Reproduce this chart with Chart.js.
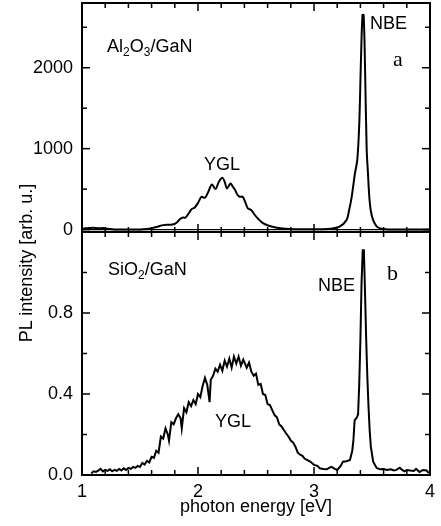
<!DOCTYPE html>
<html><head><meta charset="utf-8">
<script src="https://cdn.jsdelivr.net/npm/chart.js@4/dist/chart.umd.min.js"></script>
<style>
html,body{margin:0;padding:0;background:#fff;}
#wrap{position:relative;width:441px;height:526px;overflow:hidden;font-family:"Liberation Sans",Arial,sans-serif;color:#000;background:#fff;}
canvas{position:absolute;left:0;top:0;}
.t{position:absolute;font-size:18px;line-height:18px;white-space:nowrap;}
.t sub{font-size:12px;vertical-align:-4px;line-height:0;}
.s{font-family:"Liberation Serif","Times New Roman",serif;font-size:22px;line-height:22px;}
#ylab{left:-74.5px;top:253.5px;width:200px;text-align:center;transform:rotate(-90deg);}
</style></head>
<body><div id="wrap">
<canvas id="topc" width="441" height="526"></canvas>
<canvas id="botc" width="441" height="526"></canvas>
<div class="t" style="left:107px;top:37px">Al<sub>2</sub>O<sub>3</sub>/GaN</div>
<div class="t" style="left:204px;top:155px">YGL</div>
<div class="t" style="left:370px;top:14px">NBE</div>
<div class="t s" style="left:393px;top:48px">a</div>
<div class="t" style="left:108px;top:260px">SiO<sub>2</sub>/GaN</div>
<div class="t" style="left:318px;top:276px">NBE</div>
<div class="t s" style="left:387px;top:262px">b</div>
<div class="t" style="left:215px;top:412px">YGL</div>
<div class="t" id="ylab">PL intensity [arb. u.]</div>
</div>
<script>
// ---- data ----
const topEnergy = [1.00,1.03,1.06,1.09,1.12,1.15,1.18,1.22,1.26,1.30,1.40,1.50,1.56,1.60,1.65,1.70,1.75,1.79,1.82,1.845,1.87,1.89,1.92,1.945,1.97,2.00,2.03,2.06,2.09,2.12,2.15,2.18,2.21,2.23,2.25,2.28,2.30,2.32,2.34,2.36,2.385,2.41,2.43,2.46,2.49,2.52,2.56,2.61,2.68,2.75,2.85,3.00,3.14,3.22,3.28,3.30,3.325,3.353,3.373,3.39,3.405,3.418,3.428,3.44,3.454,3.465,3.477,3.49,3.51,3.54,3.57,3.62,3.70,3.80,4.00];
const topIntensity = [10,15,18,22,20,15,18,10,5,2,0,2,8,18,35,55,60,65,90,130,150,146,200,253,270,330,405,393,470,558,500,590,640,590,508,570,530,488,430,405,405,330,262,240,180,130,80,47,22,10,5,3,10,35,117,220,405,694,858,1300,2100,2650,2650,2000,1000,700,400,230,117,40,15,3,0,0,0];

const botEnergy = [1.08,1.10,1.12,1.14,1.16,1.18,1.20,1.22,1.24,1.26,1.28,1.30,1.32,1.34,1.36,1.38,1.40,1.42,1.44,1.46,1.48,1.50,1.52,1.54,1.56,1.58,1.60,1.62,1.64,1.66,1.68,1.70,1.72,1.74,1.75,1.77,1.79,1.81,1.83,1.85,1.86,1.88,1.90,1.92,1.94,1.96,1.98,2.00,2.02,2.04,2.06,2.08,2.10,2.11,2.13,2.15,2.17,2.19,2.21,2.23,2.25,2.27,2.29,2.31,2.33,2.35,2.37,2.39,2.42,2.44,2.46,2.48,2.50,2.52,2.54,2.56,2.58,2.60,2.62,2.64,2.66,2.68,2.70,2.72,2.74,2.76,2.78,2.80,2.82,2.84,2.86,2.88,2.90,2.92,2.94,2.97,3.00,3.03,3.05,3.08,3.11,3.13,3.15,3.18,3.20,3.23,3.25,3.28,3.31,3.33,3.34,3.35,3.37,3.38,3.39,3.40,3.41,3.42,3.43,3.44,3.45,3.46,3.47,3.48,3.49,3.51,3.54,3.57,3.60,3.63,3.66,3.69,3.71,3.74,3.76,3.78,3.80,3.83,3.86,3.88,3.91,3.94,3.97,3.99];
const botIntensity = [0.008,0.018,0.015,0.022,0.030,0.018,0.025,0.020,0.028,0.018,0.025,0.020,0.030,0.022,0.033,0.025,0.035,0.030,0.040,0.035,0.045,0.040,0.060,0.052,0.070,0.062,0.090,0.085,0.120,0.110,0.190,0.180,0.230,0.200,0.170,0.260,0.250,0.280,0.300,0.280,0.230,0.330,0.310,0.360,0.340,0.370,0.350,0.400,0.385,0.440,0.480,0.445,0.360,0.470,0.490,0.525,0.510,0.545,0.515,0.565,0.535,0.575,0.530,0.585,0.550,0.585,0.540,0.570,0.530,0.555,0.510,0.490,0.500,0.445,0.450,0.400,0.395,0.350,0.345,0.320,0.296,0.285,0.250,0.240,0.222,0.205,0.190,0.170,0.160,0.140,0.110,0.100,0.095,0.080,0.075,0.065,0.050,0.045,0.033,0.030,0.028,0.035,0.040,0.030,0.025,0.045,0.066,0.068,0.074,0.120,0.173,0.270,0.285,0.300,0.450,0.667,0.950,1.110,1.110,0.900,0.667,0.480,0.337,0.220,0.140,0.066,0.035,0.028,0.030,0.025,0.028,0.022,0.025,0.036,0.025,0.018,0.025,0.022,0.020,0.030,0.015,0.025,0.022,0.010];

const xMajorTicks = [1,2,3,4];
const xMinorTicks = [1.2,1.4,1.6,1.8,2.2,2.4,2.6,2.8,3.2,3.4,3.6,3.8];
const topYMajorTicks = [0,1000,2000];
const topYMinorTicks = [500,1500,2500];
const botYMajorTicks = [0,0.4,0.8];
const botYMinorTicks = [0.2,0.6,1.0];

// ---- rendering ----
const FONT = '"Liberation Sans", Arial, sans-serif';
Chart.defaults.font.family = FONT;
Chart.defaults.color = '#000';

const frameTicks = {
  id: 'frameTicks',
  afterDatasetsDraw(chart, args, o) {
    const {ctx, chartArea: a} = chart;
    const x = chart.scales.x, y = chart.scales.y;
    ctx.save();
    ctx.strokeStyle = '#000';
    const seg = (x1, y1, x2, y2) => { ctx.beginPath(); ctx.moveTo(x1, y1); ctx.lineTo(x2, y2); ctx.stroke(); };
    if (o.zero) {
      ctx.lineWidth = 1.2;
      const p = y.getPixelForValue(0);
      seg(a.left, p, a.right, p);
    }
    ctx.lineWidth = 1.5;
    const tx = (v, len) => { const p = x.getPixelForValue(v); seg(p, a.top, p, a.top + len); seg(p, a.bottom, p, a.bottom - len); };
    const ty = (v, len) => { const p = y.getPixelForValue(v); seg(a.left, p, a.left + len, p); seg(a.right, p, a.right - len, p); };
    o.xMajor.forEach(v => tx(v, 8));
    o.xMinor.forEach(v => tx(v, 5));
    o.yMajor.forEach(v => ty(v, 8));
    o.yMinor.forEach(v => ty(v, 5));
    ctx.lineWidth = 2;
    ctx.strokeRect(a.left, a.top, a.right - a.left, a.bottom - a.top);
    ctx.restore();
  }
};

function zeroPad(s) { s.paddingTop = 0; s.paddingBottom = 0; s.paddingLeft = 0; s.paddingRight = 0; }

function makeChart(id, energy, intensity, cfg) {
  return new Chart(document.getElementById(id), {
    type: 'line',
    data: { datasets: [{
      data: energy.map((e, i) => ({x: e, y: intensity[i]})),
      borderColor: '#000', borderWidth: 2, pointRadius: 0, fill: false,
      tension: cfg.tension
    }]},
    options: {
      responsive: false, animation: false, devicePixelRatio: 1,
      layout: { padding: cfg.padding },
      plugins: { legend: {display: false}, tooltip: {enabled: false},
        frameTicks: { zero: cfg.zero, xMajor: xMajorTicks, xMinor: xMinorTicks, yMajor: cfg.yMajor, yMinor: cfg.yMinor } },
      scales: {
        x: {
          type: 'linear', min: 1, max: 4, display: cfg.showX,
          grid: {display: false, drawTicks: false}, border: {display: false},
          afterBuildTicks: s => { s.ticks = xMajorTicks.map(v => ({value: v})); },
          ticks: { padding: 6, font: {size: 18}, color: '#000', maxRotation: 0, callback: v => String(v) },
          title: { display: cfg.showX, text: 'photon energy [eV]', font: {size: 18}, color: '#000', padding: 0 },
          afterFit: s => { s.height = cfg.showX ? 43 : 0; zeroPad(s); }
        },
        y: {
          type: 'linear', min: cfg.ymin, max: cfg.ymax,
          grid: {display: false, drawTicks: false}, border: {display: false},
          afterBuildTicks: s => { s.ticks = cfg.yMajor.map(v => ({value: v})); },
          ticks: { padding: 9, font: {size: 18}, color: '#000', callback: cfg.fmt },
          afterFit: s => { s.width = 82; zeroPad(s); }
        }
      }
    },
    plugins: [frameTicks]
  });
}

makeChart('topc', topEnergy, topIntensity, {
  padding: {top: 3, left: 0, right: 11, bottom: 294},
  ymin: -30, ymax: 2800, yMajor: topYMajorTicks, yMinor: topYMinorTicks,
  fmt: v => String(v), zero: true, showX: false, tension: 0.35
});
makeChart('botc', botEnergy, botIntensity, {
  padding: {top: 232, left: 0, right: 11, bottom: 8},
  ymin: 0, ymax: 1.2, yMajor: botYMajorTicks, yMinor: botYMinorTicks,
  fmt: v => Number(v).toFixed(1), zero: false, showX: true, tension: 0
});
</script>
</body></html>
